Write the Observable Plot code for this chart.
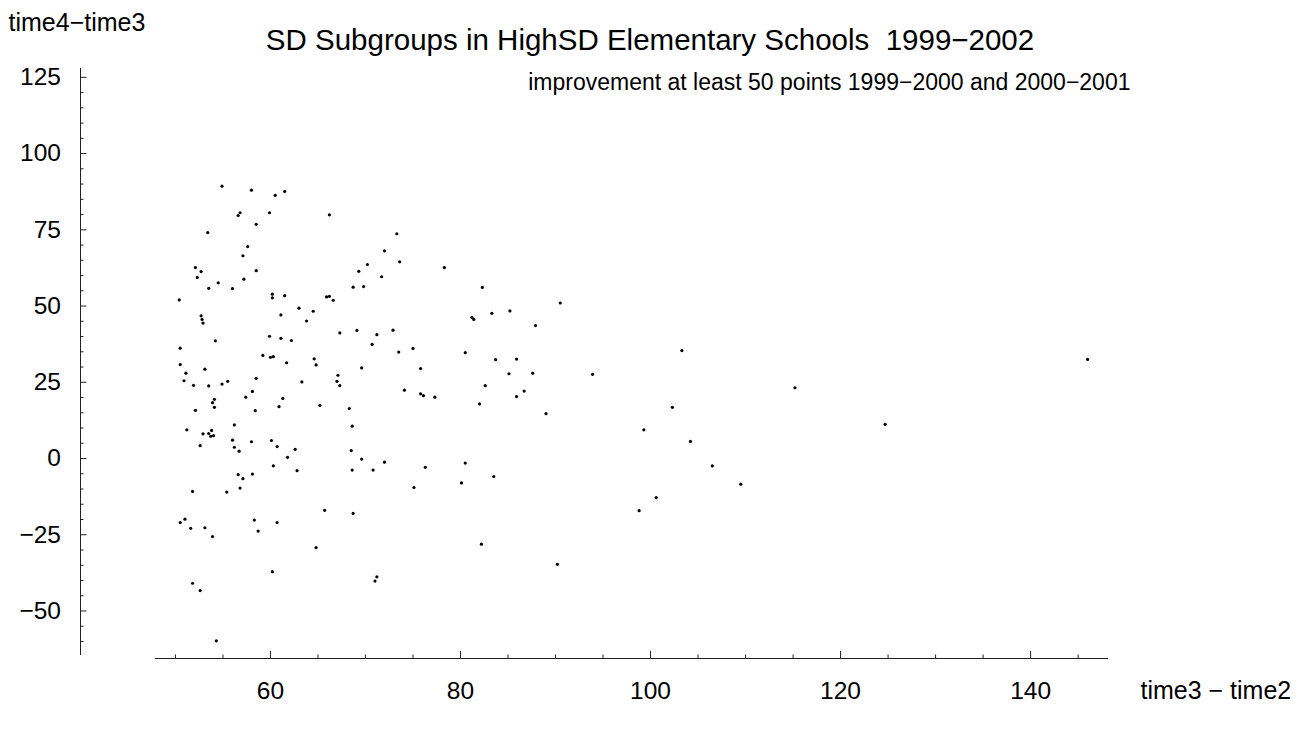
<!DOCTYPE html>
<html><head><meta charset="utf-8">
<script src="https://cdn.jsdelivr.net/npm/d3@7"></script>
<script src="https://cdn.jsdelivr.net/npm/@observablehq/plot@0.6"></script>
<style>html,body{margin:0;padding:0;background:#fff}svg{display:block}</style>
</head><body><div id="chart"></div>
<script>
// time3 - time2
const xValues = [54.9,58.0,56.8,56.6,58.5,53.4,57.6,57.1,52.1,52.7,52.3,58.5,57.2,54.5,53.5,56.0,50.4,52.7,52.8,52.9,
60.5,61.5,59.9,66.2,60.2,60.2,61.5,65.9,66.2,66.6,63.0,64.5,61.1,63.8,
54.2,50.5,50.5,51.1,53.1,50.9,51.9,53.5,54.9,55.5,58.5,58.1,57.4,54.1,53.9,54.1,52.1,58.4,56.2,51.2,52.9,53.8,53.5,53.7,54.0,56.0,58.0,52.6,56.2,56.7,56.6,57.1,58.1,
59.9,61.1,62.2,67.3,59.2,60.0,60.3,61.7,64.6,64.8,63.3,67.1,67.0,67.3,61.3,60.9,65.2,60.1,60.7,62.6,61.8,60.3,62.8,
51.8,55.4,56.8,51.0,50.5,51.6,53.1,53.9,51.8,52.6,54.3,
65.7,58.3,60.7,58.7,64.8,60.2,
73.3,72.0,73.6,70.2,69.3,71.7,78.3,68.7,69.8,82.3,81.2,81.4,83.3,69.1,71.2,72.9,70.7,73.5,75.0,80.5,83.7,69.6,75.8,82.6,74.1,75.8,76.1,77.3,82.0,68.3,
68.6,68.5,69.6,68.6,70.8,72.0,76.3,80.5,80.1,83.5,75.1,68.7,82.2,71.2,71.0,
85.2,90.5,87.9,103.3,85.9,85.1,87.6,93.9,86.7,85.9,89.0,102.3,99.3,104.2,100.6,98.8,90.2,
146.0,115.2,124.7,106.5,109.5];
// time4 - time3
const yValues = [89.3,88.0,80.6,79.7,76.8,74.1,69.5,66.5,62.6,61.3,59.4,61.6,58.8,57.6,55.8,55.7,52.0,46.8,45.6,44.4,
86.3,87.6,80.6,79.9,53.9,52.7,53.4,53.0,53.2,51.9,49.3,48.3,47.1,45.1,
38.6,36.2,30.8,28.0,29.3,25.5,24.0,23.8,24.4,25.3,26.3,22.0,20.1,19.4,18.3,16.8,15.8,15.7,11.0,9.4,8.1,9.2,8.2,7.3,7.5,6.0,5.5,4.2,3.7,2.4,-5.3,-6.6,-5.1,
40.1,39.4,38.7,41.2,33.8,33.2,33.4,31.4,32.7,30.7,25.1,27.3,25.3,23.9,19.7,17.0,17.4,5.9,3.9,3.0,0.4,-2.4,-4.0,
-10.8,-11.0,-9.7,-19.9,-21.0,-22.9,-22.7,-25.6,-40.9,-43.3,-59.8,
-17.0,-20.2,-21.0,-23.8,-29.2,-37.1,
73.7,68.1,64.5,63.6,61.4,59.6,62.6,56.2,56.4,56.1,46.3,45.6,47.6,42.0,40.6,42.1,37.4,34.9,36.1,34.7,32.4,29.7,29.5,23.9,22.4,21.2,20.6,20.1,17.9,16.4,
10.6,2.6,-0.2,-3.8,-3.8,-1.2,-2.9,-1.5,-8.0,-5.9,-9.5,-18.0,-28.1,-38.8,-40.2,
48.4,51.0,43.6,35.4,32.6,27.8,28.0,27.6,22.1,20.3,14.7,16.8,9.4,5.6,-12.8,-17.1,-34.7,
32.5,23.2,11.2,-2.4,-8.4];

const xRange = [47.9, 148.2];
const yRange = [-64.6, 127.9];
const xMajorTicks = [60, 80, 100, 120, 140];
const xMinorTicks = [50,55,65,70,75,85,90,95,105,110,115,125,130,135,145];
const yMajorTicks = [-50, -25, 0, 25, 50, 75, 100, 125];
const yMinorTicks = [-60,-55,-45,-40,-35,-30,-20,-15,-10,-5,5,10,15,20,30,35,40,45,55,60,65,70,80,85,90,95,105,110,115,120];

const titleText = ["SD Subgroups in HighSD Elementary Schools\u00a0 1999\u22122002"];
const subtitleText = ["improvement at least 50 points 1999\u22122000 and 2000\u22122001"];
const xLabel = ["time3 \u2212 time2"];
const yLabel = ["time4\u2212time3"];

const points = xValues.map((x, i) => ({x, y: yValues[i]}));
const axisColor = "#222";
const font = "'Liberation Sans', Arial, Helvetica, sans-serif";

const chart = Plot.plot({
  width: 1306, height: 729,
  marginLeft: 155, marginRight: 198, marginTop: 68, marginBottom: 74,
  x: {domain: xRange, axis: null},
  y: {domain: yRange, axis: null},
  style: {fontFamily: font, background: "#fff", color: "#000", overflow: "visible"},
  marks: [
    Plot.ruleY([yRange[0]], {x1: xRange[0], x2: xRange[1], dy: 3, stroke: axisColor, strokeWidth: 1}),
    Plot.ruleX([xRange[0]], {y1: yRange[0], y2: yRange[1], dx: -75, stroke: axisColor, strokeWidth: 1}),
    Plot.axisX(xMinorTicks, {anchor: "bottom", dy: 3, tickSize: -3.5, tickFormat: () => "", label: null, stroke: axisColor}),
    Plot.axisX(xMajorTicks, {anchor: "bottom", dy: 3, tickSize: -7, tickPadding: 30, fontSize: 24.5, label: null, stroke: axisColor, fill: "#000"}),
    Plot.axisY(yMinorTicks, {anchor: "left", dx: -75, tickSize: -3.5, tickFormat: () => "", label: null, stroke: axisColor}),
    Plot.axisY(yMajorTicks, {anchor: "left", dx: -75, tickSize: -6.5, tickPadding: 26, fontSize: 24.5, label: null, stroke: axisColor, fill: "#000"}),
    Plot.dot(points, {x: "x", y: "y", r: 1.6, fill: "#000", stroke: null}),
    Plot.text(titleText, {frameAnchor: "top", dx: 18, dy: -28, fontSize: 29.5, lineAnchor: "middle", fill: "#000"}),
    Plot.text(subtitleText, {frameAnchor: "top-right", textAnchor: "end", dx: 22, dy: 14, fontSize: 23, lineAnchor: "middle", fill: "#000"}),
    Plot.text(yLabel, {frameAnchor: "top-left", textAnchor: "start", dx: -147, dy: -46, fontSize: 25, lineAnchor: "middle", fill: "#000"}),
    Plot.text(xLabel, {frameAnchor: "bottom-right", textAnchor: "start", dx: 32, dy: 35, fontSize: 25, lineAnchor: "middle", fill: "#000"})
  ]
});
document.getElementById("chart").appendChild(chart);
</script>
</body></html>
